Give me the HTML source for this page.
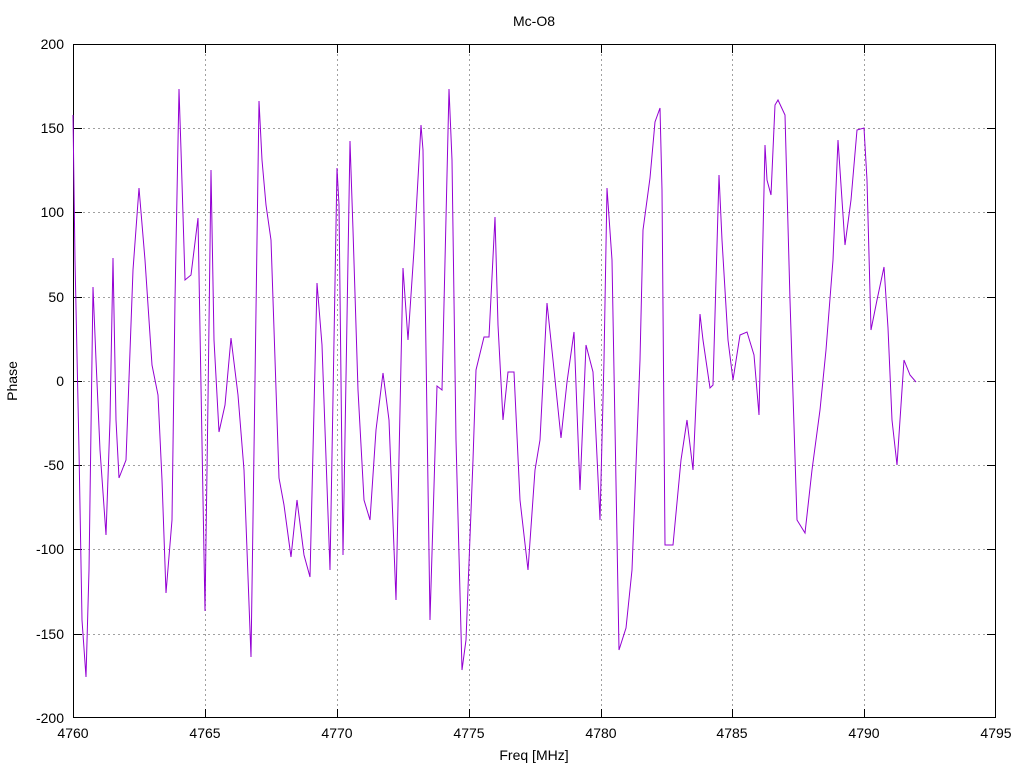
<!DOCTYPE html>
<html><head><meta charset="utf-8"><style>body{margin:0;background:#fff}</style></head>
<body>
<svg width="1024" height="768" xmlns="http://www.w3.org/2000/svg" font-family="Liberation Sans, sans-serif" font-size="14">
<rect width="1024" height="768" fill="#fff"/>
<g stroke="#a0a0a0" stroke-dasharray="2,3" stroke-width="1">
<line x1="73" y1="128.5" x2="996" y2="128.5"/>
<line x1="73" y1="212.5" x2="996" y2="212.5"/>
<line x1="73" y1="297.5" x2="996" y2="297.5"/>
<line x1="73" y1="381.5" x2="996" y2="381.5"/>
<line x1="73" y1="465.5" x2="996" y2="465.5"/>
<line x1="73" y1="549.5" x2="996" y2="549.5"/>
<line x1="73" y1="634.5" x2="996" y2="634.5"/>
<line x1="205.5" y1="44" x2="205.5" y2="718"/>
<line x1="337.5" y1="44" x2="337.5" y2="718"/>
<line x1="469.5" y1="44" x2="469.5" y2="718"/>
<line x1="601.5" y1="44" x2="601.5" y2="718"/>
<line x1="732.5" y1="44" x2="732.5" y2="718"/>
<line x1="864.5" y1="44" x2="864.5" y2="718"/>
</g>
<rect x="73.5" y="44.5" width="922" height="673" fill="none" stroke="#000"/>
<g stroke="#000">
<line x1="73" y1="128.5" x2="82" y2="128.5"/><line x1="73" y1="212.5" x2="82" y2="212.5"/><line x1="73" y1="297.5" x2="82" y2="297.5"/><line x1="73" y1="381.5" x2="82" y2="381.5"/><line x1="73" y1="465.5" x2="82" y2="465.5"/><line x1="73" y1="549.5" x2="82" y2="549.5"/><line x1="73" y1="634.5" x2="82" y2="634.5"/>
<line x1="996" y1="128.5" x2="987" y2="128.5"/><line x1="996" y1="212.5" x2="987" y2="212.5"/><line x1="996" y1="297.5" x2="987" y2="297.5"/><line x1="996" y1="381.5" x2="987" y2="381.5"/><line x1="996" y1="465.5" x2="987" y2="465.5"/><line x1="996" y1="549.5" x2="987" y2="549.5"/><line x1="996" y1="634.5" x2="987" y2="634.5"/>
<line x1="205.5" y1="718" x2="205.5" y2="709"/><line x1="337.5" y1="718" x2="337.5" y2="709"/><line x1="469.5" y1="718" x2="469.5" y2="709"/><line x1="601.5" y1="718" x2="601.5" y2="709"/><line x1="732.5" y1="718" x2="732.5" y2="709"/><line x1="864.5" y1="718" x2="864.5" y2="709"/>
<line x1="205.5" y1="44" x2="205.5" y2="53"/><line x1="337.5" y1="44" x2="337.5" y2="53"/><line x1="469.5" y1="44" x2="469.5" y2="53"/><line x1="601.5" y1="44" x2="601.5" y2="53"/><line x1="732.5" y1="44" x2="732.5" y2="53"/><line x1="864.5" y1="44" x2="864.5" y2="53"/>
</g>
<g text-anchor="end">
<text x="64" y="49">200</text><text x="64" y="133">150</text><text x="64" y="217">100</text><text x="64" y="302">50</text><text x="64" y="386">0</text><text x="64" y="470">-50</text><text x="64" y="554">-100</text><text x="64" y="639">-150</text><text x="64" y="723">-200</text>
</g>
<g text-anchor="middle">
<text x="73" y="738">4760</text><text x="205" y="738">4765</text><text x="337" y="738">4770</text><text x="469" y="738">4775</text><text x="601" y="738">4780</text><text x="732" y="738">4785</text><text x="864" y="738">4790</text><text x="996" y="738">4795</text>
<text x="534" y="760">Freq [MHz]</text>
<text x="534" y="26">Mc-O8</text>
<text transform="translate(17,381) rotate(-90)">Phase</text>
</g>
<polyline fill="none" stroke="#9400d3" stroke-width="1" points="73,115 75,260 79,450 82,620 86,677 89,570 93,287 96,360 100,450 106,535 110,420 113,258 116,420 119,478 126,460 133,270 139,188 145,260 152,365 158,395 162,480 166,593 172,520 175,300 179,89 181,150 185,280 191,275 198,218 205,611 208,400 211,170 214,340 219,432 225,405 231,338 238,395 244,470 251,657 254,450 259,101 262,160 266,205 271,240 279,478 284,505 291,557 297,500 304,555 310,577 317,283 322,345 330,570 337,168 339,205 343,555 350,141 353,230 358,390 364,500 370,520 376,430 383,373 389,420 396,600 403,268 408,340 414,250 421,125 423,150 430,620 437,386 442,390 449,89 452,160 456,440 462,670 466,640 473,460 476,370 484,337 489,337 495,217 498,325 503,420 508,372 514,372 520,500 528,570 535,470 540,440 547,303 553,360 561,438 567,382 574,332 580,490 586,345 593,372 600,520 604,360 607,188 612,260 619,650 626,628 632,570 640,360 643,230 650,178 655,122 660,108 662,190 665,545 673,545 681,460 687,420 693,470 700,314 703,340 710,388 713,385 719,175 722,240 728,340 733,380 740,335 747,332 754,355 759,415 765,145 767,180 771,195 775,105 778,100 785,115 790,300 797,520 805,533 812,470 820,410 826,350 833,260 838,140 845,245 851,200 857,130 864,128 867,180 871,330 877,300 884,267 888,328 892,420 897,465 904,360 910,375 916,382"/>
</svg>
</body></html>
